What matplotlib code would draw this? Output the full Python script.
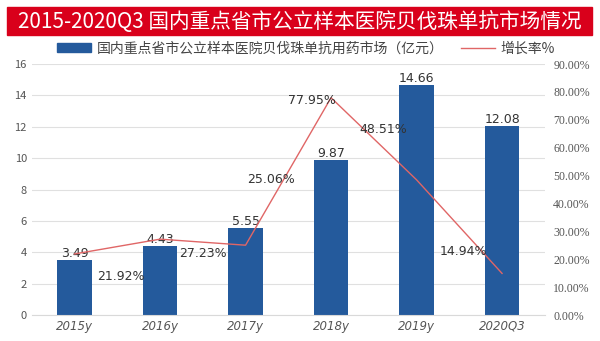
import matplotlib.pyplot as plt
import matplotlib.patches as mpatches
from matplotlib.lines import Line2D

plt.rcParams['font.family'] = ['Noto Sans CJK SC', 'DejaVu Sans']

categories = ["2015y", "2016y", "2017y", "2018y", "2019y", "2020Q3"]
market = [3.49, 4.43, 5.55, 9.87, 14.66, 12.08]
growth = [21.92, 27.23, 25.06, 77.95, 48.51, 14.94]
left_ticks = [0, 2, 4, 6, 8, 10, 12, 14, 16]
right_ticks = [0, 10, 20, 30, 40, 50, 60, 70, 80, 90]

# offsets (points) for the growth labels
growth_offsets = [(16, -16), (14, -10), (1, 47), (-31, -2), (-41, 36), (-45, 16)]

fig = plt.figure(figsize=(6, 3.41), dpi=100)

# red title banner
fig.patches.append(mpatches.Rectangle((0.011, 0.897), 0.976, 0.082, transform=fig.transFigure,
                                      color="#D9001B", zorder=0))
fig.text(0.499, 0.937, "2015-2020Q3 国内重点省市公立样本医院贝伐珠单抗市场情况",
         color="white", fontsize=14.9, ha="center", va="center")

ax = fig.add_axes([0.053, 0.076, 0.855, 0.736])
x = range(len(categories))
bars = ax.bar(x, market, width=0.4, color="#245A9C", zorder=2)
for xi, v in zip(x, market):
    ax.annotate(f"{v:.2f}", (xi, v), xytext=(0, 0), textcoords="offset points",
                ha="center", va="bottom", fontsize=9, color="#333333",
                family="DejaVu Sans")

ax.set_ylim(0, 16)
ax.set_xlim(-0.5, 5.5)
ax.set_yticks(left_ticks)
ax.set_xticks(list(x))
ax.set_xticklabels(categories, style="italic", fontsize=8.5, color="#555555",
                   family="DejaVu Sans")
ax.tick_params(axis="y", labelsize=8, colors="#555555", length=0)
ax.tick_params(axis="x", length=0)
ax.yaxis.grid(True, color="#E0E0E0", linewidth=0.8, zorder=0)
ax.set_axisbelow(True)
for s in ax.spines.values():
    s.set_visible(False)
ax.spines["bottom"].set_visible(True)
ax.spines["bottom"].set_color("#D9D9D9")

ax2 = ax.twinx()
ax2.plot(list(x), growth, color="#E06666", linewidth=1, zorder=3)
ax2.set_ylim(0, 90)
ax2.set_yticks(right_ticks)
ax2.set_yticklabels([f"{t:.2f}%" for t in right_ticks], fontsize=8.5, color="#555555",
                    family="Liberation Serif")
ax2.tick_params(axis="y", length=0, pad=6)
for s in ax2.spines.values():
    s.set_visible(False)
for xi, g, off in zip(x, growth, growth_offsets):
    ax2.annotate(f"{g:.2f}%", (xi, g), xytext=off, textcoords="offset points",
                 ha="left", va="center", fontsize=9, color="#333333",
                 family="DejaVu Sans")

handles = [mpatches.Patch(color="#245A9C"), Line2D([0], [0], color="#E06666", linewidth=1)]
fig.legend(handles, ["国内重点省市公立样本医院贝伐珠单抗用药市场（亿元）", "增长率%"],
           loc="center", bbox_to_anchor=(0.51, 0.858), ncol=2, frameon=False,
           fontsize=10, handlelength=2.5, handletextpad=0.4, columnspacing=1.2,
           labelcolor="#444444")

fig.savefig("out.png", dpi=100)
